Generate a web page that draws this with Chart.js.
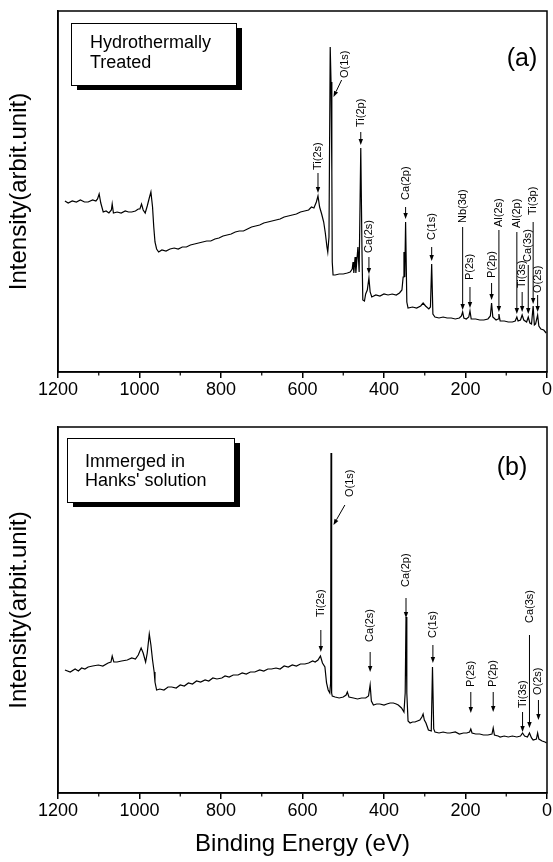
<!DOCTYPE html>
<html>
<head>
<meta charset="utf-8">
<script src="https://cdn.jsdelivr.net/npm/chart.js@4.4.1/dist/chart.umd.min.js"></script>
<style>
  html, body { margin: 0; padding: 0; background: #fff; }
  #wrap { position: relative; width: 553px; height: 862px; }
  canvas { position: absolute; left: 0; }
  #chartA { top: 0; }
  #chartB { top: 415px; }
</style>
</head>
<body>
<div id="wrap">
  <canvas id="chartA" width="553" height="410"></canvas>
  <canvas id="chartB" width="553" height="447"></canvas>
</div>
<script>
const FONT = '"Liberation Sans", Arial, Helvetica, sans-serif'

// x ticks (binding energy, eV)
const tickValues = [0, 200, 400, 600, 800, 1000, 1200]
const minorTicks = [100, 300, 500, 700, 900, 1100]

// (a) hydrothermally treated: binding energy / intensity
const beA = [1183, 1175, 1165, 1155, 1145, 1135, 1126, 1115, 1107, 1103, 1099, 1095, 1089, 1082, 1075, 1069, 1067, 1064,
  1055, 1045, 1035, 1027, 1019, 1010, 1003, 999, 995, 991, 986, 981, 976, 972, 968, 965, 962, 958, 953, 945, 935, 925,
  915, 905, 895, 885, 875, 865, 855, 845, 835, 825, 815, 805, 795, 785, 775, 765, 755, 745, 735, 725, 715, 705, 695,
  685, 675, 665, 655, 645, 635, 625, 615, 605, 595, 585, 578, 572, 566, 562, 558, 553, 548, 544, 540, 538, 535, 532,
  530, 528, 527, 525, 520, 510, 500, 490, 483, 478, 476, 474, 471, 469, 464, 461, 457, 454, 452, 448, 445, 441, 437,
  434, 430, 420, 410, 400, 390, 380, 370, 362, 356, 353, 351, 349, 347, 344, 341, 330, 320, 310, 304, 298, 290, 286,
  283, 280, 275, 265, 255, 245, 235, 225, 215, 210, 207, 204, 198, 192, 189, 186, 175, 165, 155, 145, 139, 136, 133,
  125, 120, 118, 115, 105, 95, 85, 78, 74, 71, 65, 61, 57, 50, 46, 42, 38, 34, 31, 28, 23, 20, 15, 8, 2]
const intA = [171, 169, 171, 170, 172, 170, 170, 172, 171, 173, 178, 169, 160, 161, 159, 162, 168, 159,
  160, 159, 161, 160, 160, 161, 163, 163, 168, 162, 159, 166, 174, 180, 165, 145, 130, 123, 120, 122, 121, 123,
  124, 123, 125, 125, 127, 128, 129, 130, 131, 131, 133, 134, 136, 137, 138, 140, 141, 141, 143, 145, 146, 147, 149,
  150, 151, 152, 153, 155, 156, 157, 158, 160, 161, 162, 165, 164, 170, 176, 165, 158, 150, 139, 125, 120, 135, 325,
  290, 200, 110, 97, 97, 98, 98, 99, 100, 103, 110, 99, 115, 99, 125, 100, 224, 120, 72, 71, 78, 82, 94,
  80, 75, 77, 76, 78, 77, 78, 77, 79, 82, 95, 120, 95, 150, 70, 64, 65, 64, 66, 69, 66, 63, 65,
  108, 58, 55, 54, 55, 54, 54, 53, 54, 56, 60, 54, 53, 55, 61, 53, 53, 52, 52, 53, 56, 69, 55,
  52, 53, 58, 51, 51, 50, 50, 51, 55, 51, 52, 57, 52, 50, 55, 49, 48, 66, 47, 48, 57, 46, 43, 42, 39]

// (b) immerged in Hanks' solution
const beB = [1183, 1170, 1158, 1150, 1142, 1134, 1126, 1115, 1101, 1090, 1077, 1070, 1067, 1063, 1055, 1044, 1030,
  1019, 1010, 1003, 996, 991, 985, 981, 976, 972, 968, 964, 962, 958, 950, 940, 930, 921, 910, 900, 890, 880, 870,
  860, 850, 839, 830, 820, 810, 798, 790, 780, 770, 758, 748, 738, 728, 717, 705, 695, 685, 676, 665, 655, 645, 635,
  625, 615, 605, 594, 585, 575, 569, 562, 556, 551, 545, 541, 537, 533, 531, 530, 529, 528, 527, 520, 510, 500, 493,
  490, 486, 475, 465, 455, 445, 438, 434, 431, 426, 418, 410, 400, 393, 385, 377, 370, 365, 357, 351, 348, 346, 344,
  341, 336, 330, 324, 318, 312, 307, 304, 301, 297, 291, 284, 281, 278, 275, 265, 255, 245, 238, 225, 215, 205, 197,
  190, 187, 184, 175, 165, 156, 145, 135, 132, 129, 120, 115, 105, 95, 85, 74, 65, 60, 55, 48, 43, 38, 34, 26, 23,
  20, 12, 5, 1]
const intB = [123, 121, 124, 122, 125, 124, 126, 127, 128, 127, 130, 131, 137, 131, 131, 132, 133,
  135, 134, 138, 145, 140, 131, 140, 159, 148, 133, 121, 111, 103, 104, 103, 106, 106, 105, 108, 107, 110, 109,
  112, 111, 113, 112, 115, 114, 115, 117, 116, 118, 118, 120, 119, 121, 121, 123, 122, 124, 124, 125, 124, 127, 126,
  128, 127, 129, 129, 130, 132, 131, 133, 137, 130, 126, 110, 103, 100, 110, 340, 150, 100, 97, 96, 95, 96, 98,
  101, 96, 95, 94, 95, 95, 97, 108, 92, 88, 89, 89, 88, 89, 90, 90, 89, 88, 85, 81, 100, 176, 100,
  72, 70, 71, 71, 72, 73, 76, 79, 73, 70, 63, 62, 126, 64, 61, 60, 61, 60, 60, 61, 59, 60, 60,
  61, 64, 60, 59, 59, 58, 58, 59, 65, 58, 57, 56, 57, 56, 57, 56, 57, 60, 57, 56, 60, 55, 53, 54, 60,
  54, 52, 51, 50]

// peak labels (a): text x, text start, arrow tail, arrow tip (intensity units)
const lblA = ['Ti(2s)', 'O(1s)', 'Ti(2p)', 'Ca(2s)', 'Ca(2p)', 'C(1s)', 'Nb(3d)', 'P(2s)', 'P(2p)', 'Al(2s)', 'Al(2p)', 'Ti(3s)', 'Ca(3s)', 'Ti(3p)', 'O(2s)']
const lblBeA = [562, 496, 457, 437, 347, 283, 207, 189, 136, 118, 74, 61, 46, 34, 23]
const lblTextA = [202, 294, 245, 119, 172, 132, 149, 92, 94, 145, 144, 84, 110, 157, 79]
const tailBeA = [562, 504, 457, 437, 347, 283, 207, 189, 136, 118, 74, 61, 46, 34, 23]
const tailA = [199, 292, 240, 115, 165, 125, 145, 85, 89, 142, 140, 80, 107, 150, 77]
const tipBeA = [562, 524, 457, 437, 347, 283, 207, 189, 136, 118, 74, 61, 46, 34, 23]
const tipA = [179, 275, 227, 98, 153, 111, 62, 64, 72, 60, 58, 60, 58, 68, 60]

// peak labels (b)
const lblB = ['Ti(2s)', 'O(1s)', 'Ca(2p)', 'Ca(2s)', 'C(1s)', 'P(2s)', 'P(2p)', 'Ti(3s)', 'Ca(3s)', 'O(2s)']
const lblBeB = [555, 483, 346, 434, 280, 187, 132, 60, 43, 21]
const lblTextB = [176, 296, 206, 151, 155, 106, 106, 85, 170, 98]
const tailBeB = [555, 496, 346, 434, 280, 187, 132, 60, 43, 21]
const tailB = [163, 288, 195, 141, 148, 101, 101, 81, 158, 93]
const tipBeB = [555, 524, 346, 434, 280, 187, 132, 60, 43, 21]
const tipB = [141, 268, 175, 121, 130, 80, 81, 61, 65, 73]

function drawArrow(ctx, x0, y0, x1, y1) {
  const a = Math.atan2(y1 - y0, x1 - x0)
  const len = 6, w = 2.2
  ctx.beginPath()
  ctx.moveTo(x0, y0)
  ctx.lineTo(x1 - Math.cos(a) * len, y1 - Math.sin(a) * len)
  ctx.stroke()
  ctx.beginPath()
  ctx.moveTo(x1, y1)
  ctx.lineTo(x1 - Math.cos(a) * len - Math.sin(a) * w, y1 - Math.sin(a) * len + Math.cos(a) * w)
  ctx.lineTo(x1 - Math.cos(a) * len + Math.sin(a) * w, y1 - Math.sin(a) * len - Math.cos(a) * w)
  ctx.closePath()
  ctx.fill()
}

const decorPlugin = {
  id: 'decor',
  afterDraw(chart, args, opts) {
    const { ctx, chartArea: ca, scales: { x, y } } = chart
    ctx.save()
    // frame
    ctx.strokeStyle = '#000'
    ctx.lineWidth = 1.5
    ctx.strokeRect(ca.left, ca.top, ca.right - ca.left, ca.bottom - ca.top)
    // minor ticks
    ctx.lineWidth = 1.2
    minorTicks.forEach(v => {
      const px = x.getPixelForValue(v)
      ctx.beginPath()
      ctx.moveTo(px, ca.bottom)
      ctx.lineTo(px, ca.bottom + 3.5)
      ctx.stroke()
    })
    // peak labels
    ctx.fillStyle = '#000'
    ctx.lineWidth = 1
    ctx.font = '11px ' + FONT
    opts.names.forEach((name, i) => {
      const tx = x.getPixelForValue(opts.textBe[i])
      const ty = y.getPixelForValue(opts.text[i])
      ctx.save()
      ctx.translate(tx, ty)
      ctx.rotate(-Math.PI / 2)
      ctx.textAlign = 'left'
      ctx.textBaseline = 'middle'
      ctx.fillText(name, 0, 0)
      ctx.restore()
      drawArrow(ctx, x.getPixelForValue(opts.tailBe[i]), y.getPixelForValue(opts.tail[i]),
        x.getPixelForValue(opts.tipBe[i]), y.getPixelForValue(opts.tip[i]))
    })
    // legend box with shadow
    const b = opts.box
    const bx = ca.left + b.dx, by = ca.top + b.dy
    ctx.fillStyle = '#000'
    ctx.fillRect(bx + 6, by + 5, b.w, b.h)
    ctx.fillStyle = '#fff'
    ctx.fillRect(bx, by, b.w, b.h)
    ctx.lineWidth = 1
    ctx.strokeRect(bx + 0.5, by + 0.5, b.w, b.h)
    ctx.fillStyle = '#000'
    ctx.font = '18px ' + FONT
    ctx.textAlign = 'left'
    ctx.textBaseline = 'alphabetic'
    b.lines.forEach((t, i) => ctx.fillText(t, bx + b.tx, by + b.ty + i * b.lh))
    // panel tag
    ctx.font = '25px ' + FONT
    ctx.textAlign = 'center'
    ctx.textBaseline = 'middle'
    ctx.fillText(opts.tag.text, ca.right + opts.tag.dx, ca.top + opts.tag.dy)
    ctx.restore()
  }
}

function makePanel(id, be, inten, yMax, padTop, axisH, showTitle, decor) {
  return new Chart(document.getElementById(id), {
    type: 'line',
    data: {
      datasets: [{
        data: be.map((v, i) => ({ x: v, y: inten[i] })),
        borderColor: '#000',
        borderWidth: 1.2,
        pointRadius: 0,
        tension: 0,
        fill: false
      }]
    },
    options: {
      responsive: false,
      animation: false,
      devicePixelRatio: 1,
      layout: { padding: { top: padTop, right: 6, left: 0, bottom: 0 } },
      plugins: { legend: { display: false }, tooltip: { enabled: false }, decor },
      scales: {
        x: {
          type: 'linear',
          reverse: true,
          min: 0,
          max: 1200,
          afterBuildTicks: s => { s.ticks = tickValues.map(v => ({ value: v })) },
          ticks: {
            font: { family: FONT, size: 18 },
            color: '#000',
            padding: 1,
            maxRotation: 0,
            autoSkip: false,
            callback: v => String(v)
          },
          grid: { drawOnChartArea: false, drawTicks: true, tickLength: 6, color: '#000', lineWidth: 1.5 },
          border: { display: true, color: '#000', width: 1.5 },
          title: {
            display: showTitle,
            text: 'Binding Energy (eV)',
            font: { family: FONT, size: 24 },
            color: '#000',
            padding: { top: 0, bottom: 3 }
          },
          afterFit: s => { s.height = axisH }
        },
        y: {
          min: 0,
          max: yMax,
          ticks: { display: false },
          grid: { display: false },
          border: { display: true, color: '#000', width: 1.5 },
          title: {
            display: true,
            text: 'Intensity(arbit.unit)',
            font: { family: FONT, size: 24 },
            color: '#000',
            padding: { top: 5, bottom: 0 }
          },
          afterFit: s => { s.width = 58 }
        }
      }
    },
    plugins: [decorPlugin]
  })
}

makePanel('chartA', beA, intA, 361, 11, 38, false, {
  names: lblA, textBe: lblBeA, text: lblTextA, tailBe: tailBeA, tail: tailA, tipBe: tipBeA, tip: tipA,
  box: { dx: 13, dy: 12, w: 165, h: 62, tx: 19, ty: 25, lh: 20, lines: ['Hydrothermally', 'Treated'] },
  tag: { text: '(a)', dx: -25, dy: 48 }
})

makePanel('chartB', beB, intB, 366, 12, 69, true, {
  names: lblB, textBe: lblBeB, text: lblTextB, tailBe: tailBeB, tail: tailB, tipBe: tipBeB, tip: tipB,
  box: { dx: 9, dy: 11, w: 167, h: 64, tx: 18, ty: 29, lh: 19, lines: ['Immerged in', "Hanks' solution"] },
  tag: { text: '(b)', dx: -35, dy: 41 }
})
</script>
</body>
</html>
